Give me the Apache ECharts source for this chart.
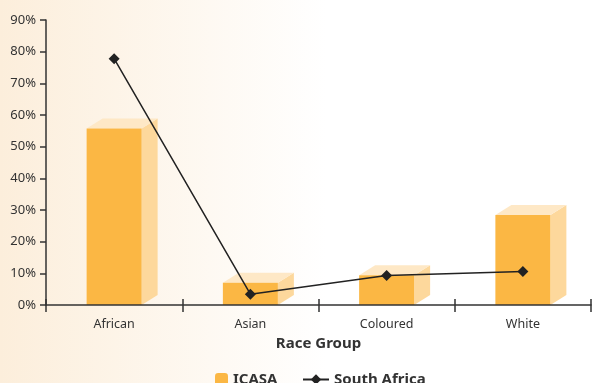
<!DOCTYPE html>
<html><head><meta charset="utf-8">
<script src="https://cdn.jsdelivr.net/npm/echarts@6/dist/echarts.min.js"></script>
<style>html,body{margin:0;padding:0;background:#fff}#c{width:593px;height:383px}</style>
</head><body><div id="c"></div>
<script>
const categories = ['African', 'Asian', 'Coloured', 'White'];
const icasa = [55.7, 7, 9.4, 28.4];
const southAfrica = [77.8, 3.4, 9.3, 10.6];
const yTicks = [0, 10, 20, 30, 40, 50, 60, 70, 80, 90];

const FONT = '"Noto Sans", sans-serif';
const chart = echarts.init(document.getElementById('c'));
const barW = 55, dx = 16, dy = 10;
chart.setOption({
  animation: false,
  backgroundColor: {type:'linear', x:0, y:0, x2:1, y2:0,
    colorStops:[{offset:0,color:'#FCEEDB'},{offset:0.55,color:'#FFFFFF'},{offset:1,color:'#FFFFFF'}]},
  textStyle: {fontFamily: FONT},
  grid: {left: 46, right: 2, top: 20, bottom: 78, containLabel: false},
  legend: [{
    data: ['ICASA'], left: 210, top: 367, itemWidth: 13, itemHeight: 13, itemGap: 10, itemTextGap: 8,
    textStyle: {fontFamily: FONT, fontWeight: 'bold', fontSize: 15, color: '#333'}
  },{
    data: ['South Africa'], left: 297, top: 367, itemWidth: 26, itemHeight: 13, itemTextGap: 14,
    textStyle: {fontFamily: FONT, fontWeight: 'bold', fontSize: 15, color: '#333'}
  }],
  xAxis: [{
    type: 'category', data: categories, boundaryGap: true,
    name: 'Race Group', nameLocation: 'middle', nameGap: 31,
    nameTextStyle: {fontFamily: FONT, fontWeight: 'bold', fontSize: 15, color: '#333'},
    axisLine: {lineStyle: {color: '#333', width: 1.5}},
    axisTick: {show: true, interval: 0, length: 7, lineStyle: {color: '#333', width: 1.5}},
    axisLabel: {interval: 0, margin: 13, fontSize: 12.5, color: '#333', fontFamily: FONT},
    z: 5
  },{
    type: 'category', data: categories, position: 'bottom', boundaryGap: true,
    axisLine: {show: false},
    axisTick: {show: true, inside: true, interval: 0, length: 6, lineStyle: {color: '#333', width: 1.5}},
    axisLabel: {show: false}
  }],
  yAxis: {
    type: 'value', min: 0, max: 90, interval: 10,
    splitLine: {show: false},
    axisLine: {show: true, lineStyle: {color: '#333', width: 1.5}},
    axisTick: {show: true, length: 6, lineStyle: {color: '#333', width: 1.5}},
    axisLabel: {formatter: v => yTicks.includes(v) ? v + '%' : '', fontSize: 13, color: '#333', margin: 10, fontFamily: FONT}
  },
  series: [{
    name: 'ICASA', type: 'custom',
    itemStyle: {color: '#FBB744'},
    data: icasa.map((v, i) => [i, v]),
    encode: {x: 0, y: 1},
    z: 2,
    renderItem: function (params, api) {
      const i = api.value(0), v = api.value(1);
      const top = api.coord([i, v]);
      const base = api.coord([i, 0]);
      const x0 = top[0] - barW / 2, x1 = top[0] + barW / 2;
      return {type: 'group', children: [
        {type: 'polygon', shape: {points: [[x1, base[1]], [x1 + dx, base[1] - dy], [x1 + dx, top[1] - dy], [x1, top[1]]]},
          style: {fill: '#FDD89C'}},
        {type: 'polygon', shape: {points: [[x0, top[1]], [x1, top[1]], [x1 + dx, top[1] - dy], [x0 + dx, top[1] - dy]]},
          style: {fill: '#FEE8C6'}},
        {type: 'rect', shape: {x: x0, y: top[1], width: barW, height: base[1] - top[1]},
          style: {fill: '#FBB744'}}
      ]};
    }
  },{
    name: 'South Africa', type: 'line', data: southAfrica,
    symbol: 'diamond', symbolSize: 11,
    lineStyle: {color: '#222', width: 1.5},
    itemStyle: {color: '#222'},
    z: 6
  }]
});
</script></body></html>
